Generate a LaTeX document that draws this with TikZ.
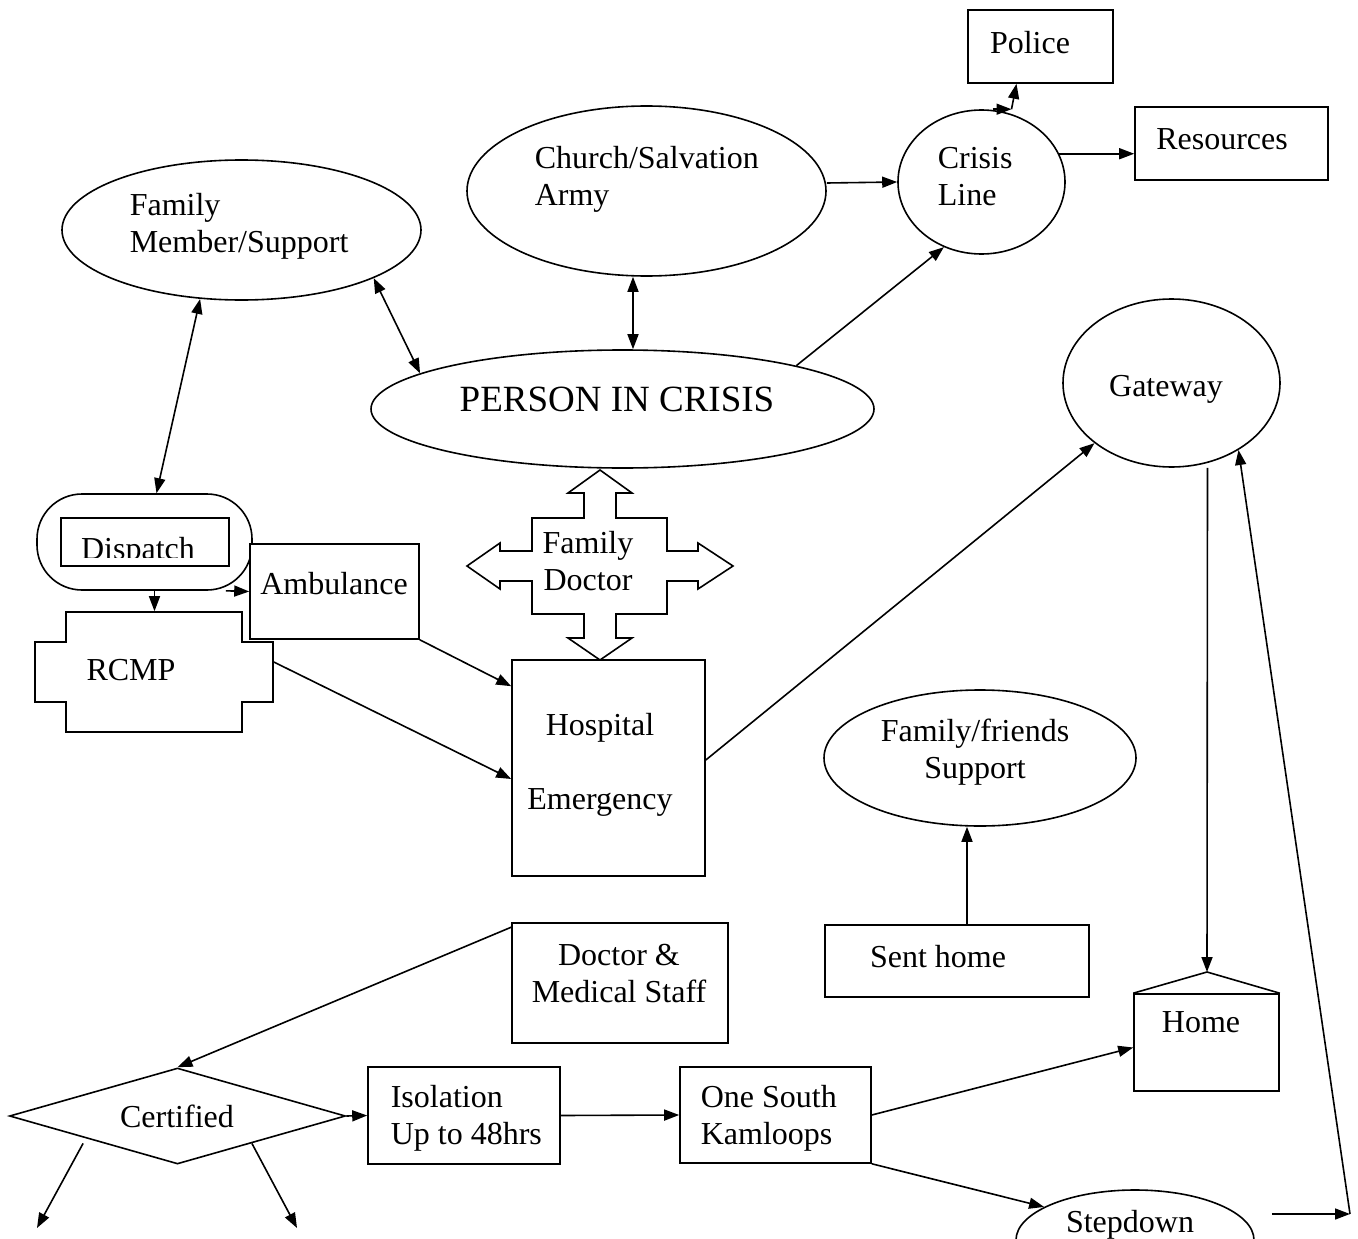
\documentclass[tikz,border=0pt]{standalone}
\usepackage{fontspec}
\setmainfont{Liberation Serif}
\usetikzlibrary{arrows.meta,shapes.geometric}

\begin{document}
\begin{tikzpicture}[x=1pt, y=-1pt, line width=1.6pt,
    every node/.style={inner sep=0pt, font=\fontsize{32}{37}\selectfont},
    box/.style={draw, fill=white, rectangle},
    oval/.style={draw, fill=white, ellipse},
    arr/.style={-{Triangle[length=15pt,width=11pt]}},
    dbl/.style={{Triangle[length=15pt,width=11pt]}-{Triangle[length=15pt,width=11pt]}}]
    \useasboundingbox (0,0) rectangle (1358,1239);
    \clip (0,0) rectangle (1358,1239);

    % top row
    \node[box, minimum width=145, minimum height=73] (police) at (1040.5,46.5) {};
    \node (policeT) at (1030,43) {Police};
    \node[box, minimum width=193, minimum height=73] (res) at (1231.5,143.5) {};
    \node (resT) at (1222,139) {Resources};
    \node[oval, minimum width=167, minimum height=144] (crisis) at (981.5,182) {};
    \node[anchor=west, align=left] (crisisT) at (937,177) {Crisis\\Line};
    \node[oval, minimum width=359, minimum height=170] (church) at (646.5,191) {};
    \node[anchor=west, align=left] (churchT) at (534,179) {Church/Salvation\\Army};
    \node[oval, minimum width=359, minimum height=140] (fam) at (241.5,230) {};
    \node[anchor=west, align=left] (famT) at (129,226) {Family\\Member/Support};

    \node[oval, minimum width=503, minimum height=118] (person) at (622.5,409) {};
    \node (personT) at (617,399) {\fontsize{37}{40}\selectfont PERSON IN CRISIS};
    \node[oval, minimum width=217, minimum height=168] (gate) at (1171.5,383) {};
    \node (gateT) at (1166,389) {Gateway};

    % dispatch, ambulance, rcmp
    \node[draw, rounded corners=45pt, minimum width=215, minimum height=96] (disp) at (144.5,542) {};
    \draw (61,518) rectangle (229,566);
    \begin{scope}
        \clip (61,518) rectangle (229,557);
        \node[anchor=base] (dispT) at (138,559) {Dispatch};
    \end{scope}
    \draw (66,612) -- (242,612) -- (242,642) -- (273,642) -- (273,702) -- (242,702)
        -- (242,732) -- (66,732) -- (66,702) -- (35,702) -- (35,642) -- (66,642) -- cycle;
    \node[minimum width=238, minimum height=120] (rcmp) at (154,672) {};
    \node (rcmpT) at (131,670) {RCMP};
    \node[box, minimum width=169, minimum height=95] (amb) at (334.5,591.5) {};
    \node (ambT) at (334,584) {Ambulance};

    % family doctor four-way arrow
    \draw (600,470) -- (632,493) -- (616,493) -- (616,518) -- (667,518) -- (667,551)
        -- (698,551) -- (698,543) -- (733,566) -- (698,589) -- (698,581) -- (667,581)
        -- (667,614) -- (616,614) -- (616,638) -- (632,638) -- (600,660) -- (568,638)
        -- (584,638) -- (584,614) -- (532,614) -- (532,581) -- (500,581) -- (500,589)
        -- (467,566) -- (500,543) -- (500,551) -- (532,551) -- (532,518) -- (584,518)
        -- (584,493) -- (568,493) -- cycle;
    \node[align=center] (fdocT) at (588,561) {Family\\Doctor};

    \node[box, minimum width=193, minimum height=216] (hosp) at (608.5,768) {};
    \node[align=center] (hospT) at (600,765) {Hospital\\[37pt]Emergency};
    \node[oval, minimum width=312, minimum height=136] (famfr) at (980,758) {};
    \node[align=center] (famfrT) at (975,752) {Family/friends\\Support};
    \node[box, minimum width=264, minimum height=72] (sent) at (957,961) {};
    \node (sentT) at (938,957) {Sent home};
    \node[box, minimum width=216, minimum height=120] (doc) at (620,983) {};
    \node[align=center] (docT) at (619,974) {Doctor \&\\Medical Staff};

    % home
    \node[draw, minimum width=145, minimum height=97] (home) at (1206.5,1042.5) {};
    \coordinate (peak) at (1207,972);
    \draw (home.north west) -- (peak) -- (home.north east);
    \node (homeT) at (1201,1022) {Home};

    % bottom row
    \node[draw, diamond, minimum width=336, minimum height=96] (cert) at (177.5,1116) {};
    \node (certT) at (177,1116) {Certified};
    \node[box, minimum width=192, minimum height=97] (iso) at (464,1115.5) {};
    \node[anchor=west, align=left] (isoT) at (390,1118) {Isolation\\Up to 48hrs};
    \node[box, minimum width=191, minimum height=96] (one) at (775.5,1115) {};
    \node[anchor=west, align=left] (oneT) at (700,1118) {One South\\Kamloops};
    \node[oval, minimum width=238, minimum height=100] (step) at (1135,1240) {};
    \node[anchor=base] (stepT) at (1130,1232) {Stepdown};
    \coordinate (cL) at (37,1228);
    \coordinate (cR) at (297,1228);
    \coordinate (stepEnd) at (1350,1214);

    % connectors
    \draw[dbl] (fam.239) -- ([xshift=12pt]disp.north);
    \draw[dbl] (fam.340) -- (person.170);
    \draw[dbl] ([xshift=-13.5pt]church.south) -- ([xshift=10.5pt]person.north);
    \draw[arr] (person.14) -- (crisis.240);
    \draw[arr] ([yshift=8pt]church.east) -- (crisis.west);
    \draw[arr] (crisis.20) -- (crisis.20 -| res.west);
    \draw[arr] ([xshift=11pt]crisis.north) -- ++(19,0) coordinate (bend);
    \draw[arr] (bend) -- ([xshift=-24pt]police.south);
    \draw[arr] ([xshift=10pt]disp.south) -- ([xshift=10pt]disp.south |- rcmp.north);
    \draw[arr] ([xshift=-27pt]disp.south east) -- (amb.west);
    \draw[arr] (amb.south east) -- ([yshift=-27pt]hosp.north west);
    \draw[arr] ([yshift=10pt]rcmp.east) -- ([yshift=-11pt]hosp.west);
    \draw[arr] ([yshift=8pt]hosp.east) -- (gate.218);
    \draw[arr] ([xshift=36pt]gate.south) -- (peak);
    \draw[arr] ([xshift=10pt]sent.north) -- ([xshift=-13pt]famfr.south);
    \draw[arr] ([yshift=-5pt]doc.north west) -- (cert.north);
    \draw[arr] (cert.east) -- (iso.west);
    \draw[arr] (iso.east) -- (one.west);
    \draw[arr] (one.east) -- ([yshift=-5pt]home.west);
    \draw[arr] (one.south east) -- (step.160);
    \draw[arr] ([xshift=-10pt,yshift=-3pt]cert.south west) -- (cL);
    \draw[arr] ([xshift=-10pt,yshift=-3pt]cert.south east) -- (cR);
    \draw[arr] ([xshift=17pt]step.east |- stepEnd) -- (stepEnd);
    \draw[arr] (stepEnd) -- (gate.315);
\end{tikzpicture}
\end{document}
